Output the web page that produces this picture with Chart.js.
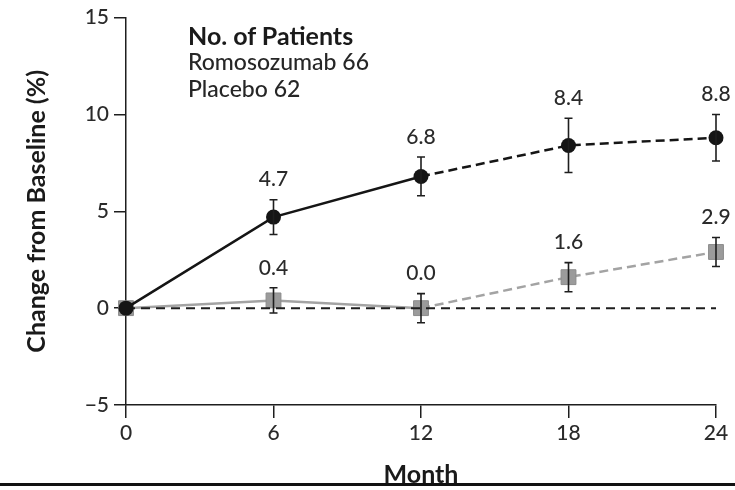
<!DOCTYPE html>
<html>
<head>
<meta charset="utf-8">
<script src="https://cdn.jsdelivr.net/npm/chart.js@4.4.0/dist/chart.umd.min.js"></script>
<style>
  body { margin: 0; background: #fff; }
  #wrap { position: relative; width: 735px; height: 490px; }
  .note { position: absolute; left: 188px; font-family: Lato, sans-serif; font-weight: 500; color: #262626; white-space: nowrap; }
  #n1 { top: 22px; font-size: 25px; font-weight: bold; line-height: 27px; color: #1a1a1a; }
  #n2 { top: 48px; font-size: 23px; line-height: 27px; }
  #n3 { top: 75px; font-size: 23px; line-height: 27px; }
  #rule { position: absolute; left: 0; top: 483px; width: 735px; height: 3px; background: #111; }
</style>
</head>
<body>
<div id="wrap">
  <canvas id="chart" width="735" height="490"></canvas>
  <div class="note" id="n1">No. of Patients</div>
  <div class="note" id="n2">Romosozumab 66</div>
  <div class="note" id="n3">Placebo 62</div>
  <div id="rule"></div>
</div>
<script>
// --- data ---
const months = [0, 6, 12, 18, 24];
const romoMean = [0, 4.7, 6.8, 8.4, 8.8];
const romoErr = [0, 0.9, 1.0, 1.4, 1.2];
const placeboMean = [0, 0.4, 0.0, 1.6, 2.9];
const placeboErr = [0, 0.65, 0.75, 0.75, 0.75];
const yTicks = [-5, 0, 5, 10, 15];
const xTicks = [0, 6, 12, 18, 24];
const dashFrom = 12; // later visits drawn dashed

Chart.defaults.font.family = 'Lato, sans-serif';

const toPoints = (vals) => months.map((m, i) => ({ x: m, y: vals[i] }));
const dashAfter = (ctx) => (ctx.p0.parsed.x >= dashFrom ? [9, 5] : []);

// error bars + value labels
const errorBars = {
  id: 'errorBars',
  afterDatasetsDraw(chart) {
    const { ctx, scales: { x, y } } = chart;
    ctx.save();
    [[romoMean, romoErr], [placeboMean, placeboErr]].forEach(([mean, err]) => {
      months.forEach((m, i) => {
        if (!err[i]) return;
        const px = x.getPixelForValue(m);
        const top = y.getPixelForValue(mean[i] + err[i]);
        const bot = y.getPixelForValue(mean[i] - err[i]);
        ctx.strokeStyle = '#1e1e1e';
        ctx.lineWidth = 1.6;
        ctx.beginPath();
        ctx.moveTo(px, top); ctx.lineTo(px, bot);
        ctx.moveTo(px - 4, top); ctx.lineTo(px + 4, top);
        ctx.moveTo(px - 4, bot); ctx.lineTo(px + 4, bot);
        ctx.stroke();
        ctx.fillStyle = '#2a2a2a';
        ctx.font = '500 21px Lato, sans-serif';
        ctx.textAlign = 'center';
        ctx.textBaseline = 'middle';
        ctx.fillText(mean[i].toFixed(1), px, top - 20);
      });
    });
    ctx.restore();
  }
};

const axisColor = '#1e1e1e';

new Chart(document.getElementById('chart'), {
  type: 'line',
  data: {
    datasets: [
      {
        label: 'Romosozumab',
        data: toPoints(romoMean),
        borderColor: '#151515',
        backgroundColor: '#151515',
        borderWidth: 2.5,
        pointStyle: 'circle',
        pointRadius: 7.5,
        pointBorderWidth: 0,
        clip: false,
        segment: { borderDash: dashAfter }
      },
      {
        label: 'zero',
        data: [{ x: months[0], y: 0 }, { x: months[months.length - 1], y: 0 }],
        borderColor: '#1e1e1e',
        borderWidth: 2,
        borderDash: [9, 6],
        pointRadius: 0,
        clip: false
      },
      {
        label: 'Placebo',
        data: toPoints(placeboMean),
        borderColor: '#a3a3a3',
        backgroundColor: '#9b9b9b',
        borderWidth: 2.5,
        pointStyle: 'rect',
        pointRadius: 10.5,
        pointBorderColor: '#8c8c8c',
        pointBorderWidth: 1,
        clip: false,
        segment: { borderDash: dashAfter }
      }
    ]
  },
  options: {
    responsive: false,
    animation: false,
    layout: { padding: { top: 15, right: 19, left: 0, bottom: 0 } },
    plugins: { legend: { display: false }, tooltip: { enabled: false } },
    scales: {
      x: {
        type: 'linear',
        min: 0,
        max: 24,
        afterBuildTicks: (s) => { s.ticks = xTicks.map(v => ({ value: v })); },
        afterFit: (s) => { s.height = 85; },
        grid: { drawOnChartArea: false, tickLength: 13, color: axisColor, lineWidth: 1.5 },
        border: { color: axisColor, width: 1.5 },
        ticks: { color: '#2a2a2a', font: { size: 21, weight: 500 }, padding: 3, maxRotation: 0 },
        title: { display: true, text: 'Month', color: '#1a1a1a', font: { size: 25, weight: 'bold' }, padding: { top: 0, bottom: 0 } }
      },
      y: {
        min: -5,
        max: 15,
        afterBuildTicks: (s) => { s.ticks = yTicks.map(v => ({ value: v })); },
        afterFit: (s) => { s.width = 126; },
        grid: { drawOnChartArea: false, tickLength: 12, color: axisColor, lineWidth: 1.5 },
        border: { color: axisColor, width: 1.5 },
        ticks: {
          color: '#2a2a2a',
          font: { size: 21, weight: 500 },
          padding: 5,
          callback: (v) => (v < 0 ? '\u2212' + Math.abs(v) : String(v))
        },
        title: { display: true, text: 'Change from Baseline (%)', color: '#1a1a1a', font: { size: 25, weight: 'bold' }, padding: { top: 22, bottom: 0 } }
      }
    }
  },
  plugins: [errorBars]
});
</script>
</body>
</html>
